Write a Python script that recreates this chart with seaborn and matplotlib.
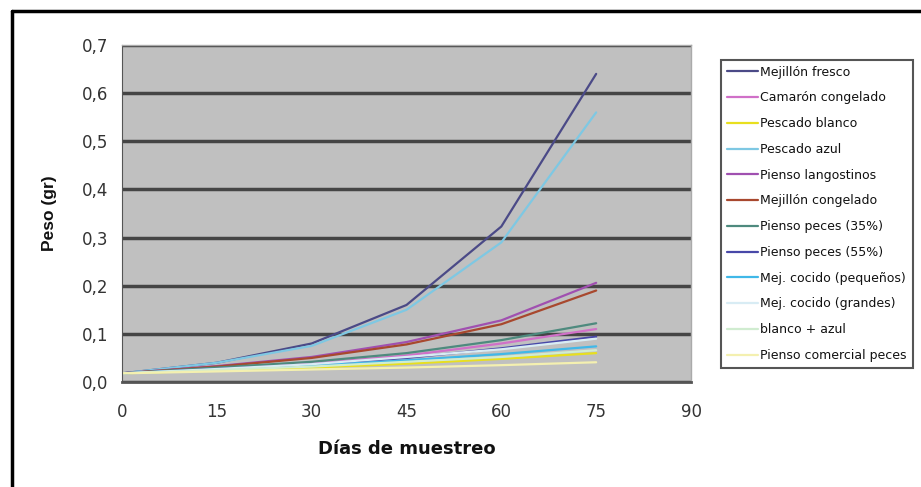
import pandas as pd
import matplotlib
matplotlib.use("Agg")
import matplotlib.pyplot as plt
import seaborn as sns
from matplotlib.lines import Line2D
from matplotlib.ticker import FuncFormatter, MultipleLocator

# days of sampling and weight (gr) per diet
days = [0, 15, 30, 45, 60, 75]
series_names = [
    "Mejillón fresco", "Camarón congelado", "Pescado blanco", "Pescado azul",
    "Pienso langostinos", "Mejillón congelado", "Pienso peces (35%)",
    "Pienso peces (55%)", "Mej. cocido (pequeños)", "Mej. cocido (grandes)",
    "blanco + azul", "Pienso comercial peces",
]
mejillon_fresco = [0.018, 0.040, 0.080, 0.160, 0.323, 0.640]
camaron_congelado = [0.018, 0.028, 0.038, 0.055, 0.080, 0.110]
pescado_blanco = [0.018, 0.024, 0.030, 0.038, 0.048, 0.060]
pescado_azul = [0.018, 0.040, 0.075, 0.150, 0.290, 0.560]
pienso_langostinos = [0.018, 0.033, 0.052, 0.083, 0.128, 0.206]
mejillon_congelado = [0.018, 0.032, 0.050, 0.078, 0.120, 0.190]
pienso_peces_35 = [0.018, 0.030, 0.042, 0.060, 0.087, 0.122]
pienso_peces_55 = [0.018, 0.027, 0.036, 0.050, 0.070, 0.094]
cocido_pequenos = [0.018, 0.026, 0.034, 0.045, 0.058, 0.074]
cocido_grandes = [0.018, 0.027, 0.037, 0.052, 0.068, 0.090]
blanco_azul = [0.018, 0.025, 0.032, 0.042, 0.052, 0.066]
pienso_comercial = [0.018, 0.022, 0.026, 0.030, 0.035, 0.041]

values = [
    mejillon_fresco, camaron_congelado, pescado_blanco, pescado_azul,
    pienso_langostinos, mejillon_congelado, pienso_peces_35, pienso_peces_55,
    cocido_pequenos, cocido_grandes, blanco_azul, pienso_comercial,
]
colors = [
    "#4b4a87", "#d070c8", "#e8df1e", "#7ec8e3", "#a050b0", "#a8482e",
    "#4e8a7e", "#4848a8", "#40b8e8", "#d8ecf4", "#d0ecd0", "#f4f0b0",
]

rows = []
for name, vals in zip(series_names, values):
    for d, v in zip(days, vals):
        rows.append({"dia": d, "peso": v, "dieta": name})
df = pd.DataFrame(rows)

sns.set_style("white")
plt.rcParams["font.family"] = ["DejaVu Sans"]

fig = plt.figure(figsize=(9.21, 4.87), dpi=100)
ax = fig.add_axes([122 / 921, 1 - 382 / 487, (691 - 122) / 921, (382 - 45) / 487])
ax.set_facecolor("#c0c0c0")

sns.lineplot(data=df, x="dia", y="peso", hue="dieta", hue_order=series_names,
             palette=dict(zip(series_names, colors)), linewidth=1.6, ax=ax)

ax.set_xlim(0, 90)
ax.set_ylim(0, 0.7)
ax.xaxis.set_major_locator(MultipleLocator(15))
ax.yaxis.set_major_locator(MultipleLocator(0.1))
ax.yaxis.set_major_formatter(FuncFormatter(lambda v, p: f"{v:.1f}".replace(".", ",")))
ax.set_axisbelow(True)
ax.grid(axis="y", color="#454545", linewidth=2.5)
ax.tick_params(axis="both", direction="out", length=5, width=1.2, color="#555555",
               labelsize=12, labelcolor="#333333", pad=5)
ax.tick_params(axis="x", pad=10)
for side in ["top", "right"]:
    ax.spines[side].set_color("#aaaaaa")
    ax.spines[side].set_linewidth(1)
ax.spines["left"].set_color("#555555")
ax.spines["bottom"].set_color("#555555")
ax.spines["bottom"].set_linewidth(2)

ax.set_xlabel("Días de muestreo", fontsize=13, fontweight="bold", labelpad=14,
              color="#111111")
ax.set_ylabel("Peso (gr)", fontsize=12.5, fontweight="bold", labelpad=18,
              family="Liberation Sans", color="#111111")

handles, labels = ax.get_legend_handles_labels()
leg = ax.legend(handles, labels, loc="upper left", bbox_to_anchor=(721 / 921, 1 - 60 / 487),
                bbox_transform=fig.transFigure, fontsize=9, frameon=True, fancybox=False,
                edgecolor="#555555", framealpha=1, labelspacing=1.02, handlelength=2.5,
                handletextpad=0.2, borderpad=0.45, borderaxespad=0, labelcolor="#111111")
leg.get_frame().set_linewidth(1.5)

# outer black frame (top and left edges visible)
fig.add_artist(Line2D([12 / 921, 1], [1 - 11 / 487, 1 - 11 / 487], color="black", linewidth=2.5))
fig.add_artist(Line2D([12 / 921, 12 / 921], [0, 1 - 11 / 487], color="black", linewidth=2.5))

fig.savefig("out.png", dpi=100)
